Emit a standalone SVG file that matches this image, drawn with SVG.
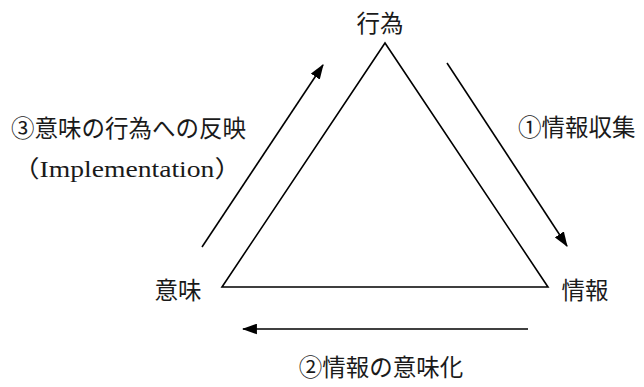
<svg xmlns="http://www.w3.org/2000/svg" width="644" height="387" viewBox="0 0 644 387">
<style>
text{font-family:"Liberation Serif","Noto Sans CJK JP",serif;font-size:23.5px;fill:#1a1a1a}
.ln{stroke:#000;stroke-width:1.6;fill:none}
</style>
<defs>
<marker id="ah" viewBox="0 0 14 10" refX="13" refY="5" markerWidth="15" markerHeight="11" markerUnits="userSpaceOnUse" orient="auto">
<path d="M0,0 L14,5 L0,10 z" fill="#000"/>
</marker>
</defs>
<rect width="644" height="387" fill="#fff"/>
<g id="triangle">
<polygon class="ln" points="385,43 222,287 548,287" stroke-linejoin="miter"/>
</g>
<g id="node-koui"><text x="380" y="31.5" text-anchor="middle">行為</text></g>
<g id="node-imi"><text x="178" y="298.5" text-anchor="middle">意味</text></g>
<g id="node-jouhou"><text x="585" y="298.5" text-anchor="middle">情報</text></g>
<g id="connectors">
<line class="ln" x1="447" y1="63" x2="567" y2="246" marker-end="url(#ah)"/>
<line class="ln" x1="528" y1="329" x2="243" y2="329" marker-end="url(#ah)"/>
<line class="ln" x1="202" y1="247" x2="323" y2="65" marker-end="url(#ah)"/>
</g>
<g id="labels">
<text x="518" y="135.5">①情報収集</text>
<text x="381" y="376" text-anchor="middle">②情報の意味化</text>
<text x="11" y="137">③意味の行為への反映</text>
<text x="12" y="177" textLength="230" lengthAdjust="spacingAndGlyphs">（Implementation）</text>
</g>
</svg>
